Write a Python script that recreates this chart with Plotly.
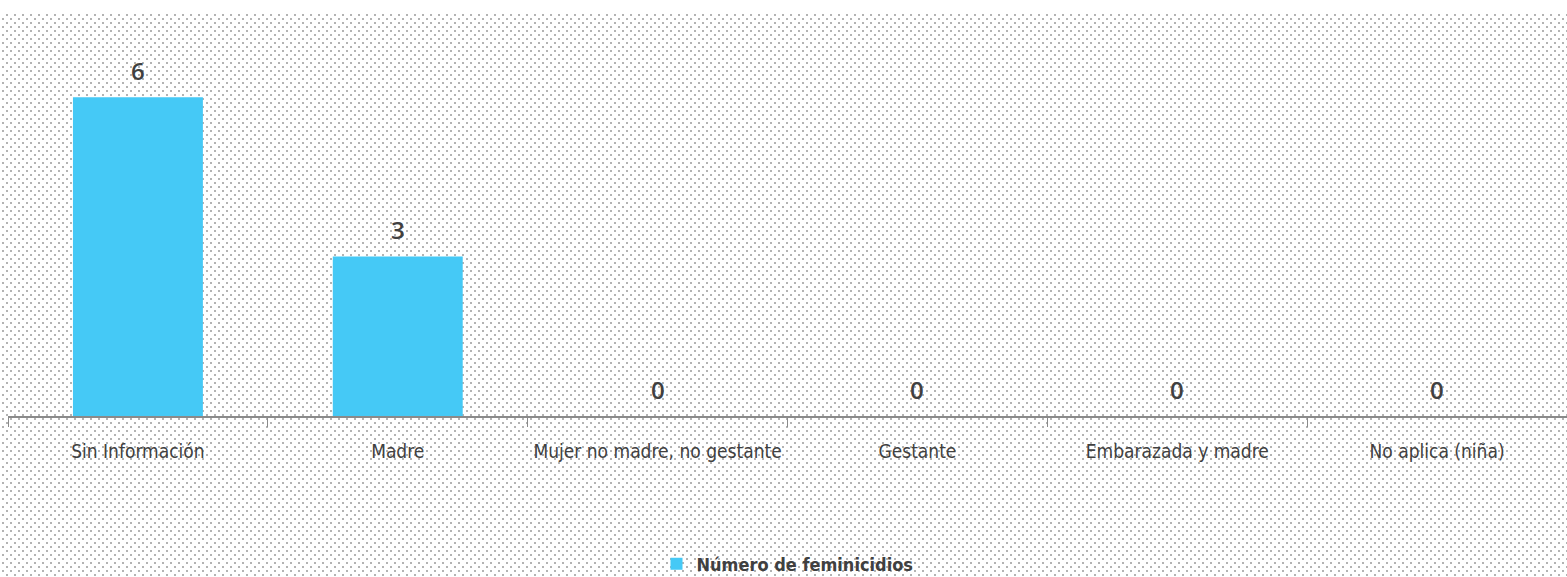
import base64
import plotly.graph_objects as go

categories = ["Sin Información", "Madre", "Mujer no madre, no gestante",
              "Gestante", "Embarazada y madre", "No aplica (niña)"]
values = [6, 3, 0, 0, 0, 0]
series_name = "Número de feminicidios"

W, H = 1567, 577
L, R, T, B = 8, 0, 44, 161
pw = W - L - R
ph = H - T - B
top_white = 14

svg = (f'<svg xmlns="http://www.w3.org/2000/svg" width="{W}" height="{H - top_white}" '
       f'viewBox="0 0 {W} {H - top_white}" preserveAspectRatio="none">'
       '<defs><pattern id="p" width="8" height="8" patternUnits="userSpaceOnUse">'
       '<rect x="6" y="0" width="2" height="2" fill="#b3b3b3"/>'
       '<rect x="2" y="4" width="2" height="2" fill="#b3b3b3"/>'
       '</pattern></defs>'
       f'<rect width="{W}" height="{H - top_white}" fill="url(#p)"/></svg>')
src = "data:image/svg+xml;base64," + base64.b64encode(svg.encode()).decode()

COND = "DejaVu Sans Condensed"

fig = go.Figure()
fig.add_trace(go.Bar(
    x=categories, y=values, name=series_name,
    marker=dict(color="#45C9F6", line=dict(width=0)),
    showlegend=True,
))

for c, v in zip(categories, values):
    fig.add_annotation(x=c, y=v, text=str(v), showarrow=False,
                       yanchor="middle", yshift=27,
                       font=dict(family="Open Sans", size=24, color="#404040", weight=600))

fig.add_layout_image(dict(
    source=src, xref="paper", yref="paper",
    x=-L / pw, y=1 + (T - top_white) / ph,
    sizex=W / pw, sizey=(H - top_white) / ph,
    xanchor="left", yanchor="top", sizing="stretch", layer="below",
))

fig.update_layout(
    width=W, height=H,
    margin=dict(l=L, r=R, t=T, b=B, pad=0, autoexpand=False),
    paper_bgcolor="white", plot_bgcolor="rgba(0,0,0,0)",
    bargap=0.5,
    showlegend=True,
    legend=dict(orientation="h", x=0.5, xanchor="center", y=-0.398, yanchor="middle",
                font=dict(family=COND, size=18, color="#404040", weight="bold"),
                bgcolor="rgba(0,0,0,0)", itemsizing="constant", itemwidth=30),
    xaxis=dict(
        showline=True, linecolor="#8a8a8a", linewidth=1.5,
        ticks="outside", tickson="boundaries", ticklen=9, tickcolor="#8a8a8a", tickwidth=1,
        tickfont=dict(family=COND, size=19, color="#404040"),
        tickangle=0, automargin=False,
        showgrid=False, zeroline=False, ticklabelstandoff=17,
    ),
    yaxis=dict(visible=False, range=[0, 7], showgrid=False, zeroline=False),
)

fig.write_html("out.html", config={"displayModeBar": False},
               post_script="document.body.style.margin='0';document.body.style.overflow='hidden';")
